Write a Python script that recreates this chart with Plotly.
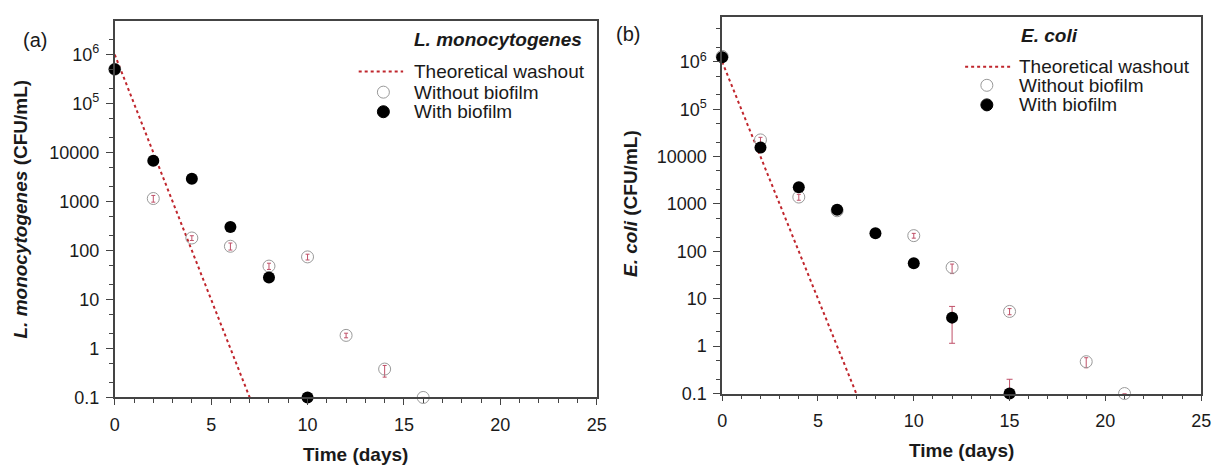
import plotly.graph_objects as go

# ---- data ----
days_wash = [0, 7]
wash = [1e6, 0.1]

# (a) L. monocytogenes
lm_days_wo = [0, 2, 4, 6, 8, 10, 12, 14, 16]
lm_wo = [5e5, 1150, 180, 122, 48, 74, 1.85, 0.38, 0.1]
lm_wo_err_up = [0, 180, 20, 20, 7, 10, 0.2, 0.07, 0]
lm_wo_err_dn = [0, 180, 20, 20, 7, 10, 0.2, 0.12, 0]
lm_days_w = [0, 2, 4, 6, 8, 10]
lm_w = [5e5, 6800, 2900, 300, 28, 0.1]

# (b) E. coli
ec_days_wo = [0, 2, 4, 6, 10, 12, 15, 19, 21]
ec_wo = [1.3e6, 22500, 1400, 720, 215, 46, 5.4, 0.47, 0.1]
ec_wo_err_up = [0, 3000, 200, 80, 25, 8, 0.8, 0.1, 0]
ec_wo_err_dn = [0, 3000, 200, 80, 25, 12, 0.8, 0.12, 0]
ec_days_w = [0, 2, 4, 6, 8, 10, 12, 15]
ec_w = [1.25e6, 15500, 2250, 760, 240, 56, 4.0, 0.1]
ec_w_err_up = [0, 0, 0, 0, 0, 0, 2.9, 0.1]
ec_w_err_dn = [0, 0, 0, 0, 0, 0, 2.85, 0]

ytick_vals = [0.1, 1, 10, 100, 1000, 10000, 1e5, 1e6]
ytick_text = ["0.1", "1", "10", "100", "1000", "10000", "10<sup>5</sup>", "10<sup>6</sup>"]
xtick_vals = [0, 5, 10, 15, 20, 25]

legend_names = ["Theoretical washout", "Without biofilm", "With biofilm"]

FONT = "Arial, Liberation Sans, sans-serif"
WASH_COL = "#c0262d"
ERR_COL = "#c05068"
OPEN_COL = "#999999"
AX_COL = "#444444"
TXT_COL = "#1a1a1a"

# the figure appears shifted right by the page margin; compensate horizontally
OFF_X, OFF_Y = 8, 0
W, H = 1226 - OFF_X, 466 - OFF_Y


def px(X):
    return (X - OFF_X) / W


def py(Y):
    return 1 - (Y - OFF_Y) / H


fig = go.Figure()


def add_panel(xa, ya, d_wo, v_wo, eu_wo, ed_wo, d_w, v_w, eu_w=None, ed_w=None):
    fig.add_trace(go.Scatter(
        x=days_wash, y=wash, mode="lines", name=legend_names[0],
        line=dict(color=WASH_COL, width=2, dash="dot"),
        xaxis=xa, yaxis=ya, showlegend=False))
    fig.add_trace(go.Scatter(
        x=d_wo, y=v_wo, mode="markers", name=legend_names[1],
        marker=dict(symbol="circle-open", size=12, color=OPEN_COL, line=dict(width=1)),
        error_y=dict(type="data", symmetric=False, array=eu_wo, arrayminus=ed_wo,
                     color=ERR_COL, thickness=1, width=2),
        xaxis=xa, yaxis=ya, showlegend=False, cliponaxis=False))
    ey = None
    if eu_w is not None:
        ey = dict(type="data", symmetric=False, array=eu_w, arrayminus=ed_w,
                  color=ERR_COL, thickness=1, width=3)
    fig.add_trace(go.Scatter(
        x=d_w, y=v_w, mode="markers", name=legend_names[2],
        marker=dict(symbol="circle", size=12, color="black"),
        error_y=ey, cliponaxis=False,
        xaxis=xa, yaxis=ya, showlegend=False))


add_panel("x", "y", lm_days_wo, lm_wo, lm_wo_err_up, lm_wo_err_dn, lm_days_w, lm_w)
add_panel("x2", "y2", ec_days_wo, ec_wo, ec_wo_err_up, ec_wo_err_dn,
          ec_days_w, ec_w, ec_w_err_up, ec_w_err_dn)


def xaxis_cfg(x0, x1, anchor):
    return dict(
        domain=[px(x0), px(x1)], anchor=anchor, range=[0, 25],
        tickvals=xtick_vals, ticks="outside", ticklen=6, tickwidth=1.2,
        tickcolor=AX_COL, showline=True, linecolor=AX_COL, linewidth=1.5, mirror=True,
        showgrid=False, zeroline=False, ticklabelstandoff=4,
        minor=dict(dtick=1, ticks="outside", ticklen=4, tickcolor=AX_COL, tickwidth=1),
        tickfont=dict(size=18, color=TXT_COL, family=FONT),
        title=dict(text="<b>Time (days)</b>", font=dict(size=19, color=TXT_COL, family=FONT),
                   standoff=14),
    )


def yaxis_cfg(y_top, y_bot, anchor, top):
    return dict(
        domain=[py(y_bot), py(y_top)], anchor=anchor, type="log", range=[-1, top],
        tickvals=ytick_vals, ticktext=ytick_text, ticks="outside", ticklen=7, tickwidth=1.2,
        tickcolor=AX_COL, showline=True, linecolor=AX_COL, linewidth=1.5, mirror=True,
        showgrid=False, zeroline=False, ticklabelstandoff=3,
        minor=dict(ticks="outside", ticklen=4, tickcolor=AX_COL, tickwidth=1),
        tickfont=dict(size=18, color=TXT_COL, family=FONT),
    )


fig.update_layout(
    width=W, height=H,
    margin=dict(l=0, r=0, t=0, b=0),
    paper_bgcolor="white", plot_bgcolor="white",
    font=dict(family=FONT, color=TXT_COL),
    xaxis=xaxis_cfg(111, 599, "y"),
    yaxis=yaxis_cfg(13, 398, "x", 6.69),
    xaxis2=xaxis_cfg(726, 1211, "y2"),
    yaxis2=yaxis_cfg(9, 394, "x2", 6.95),
    showlegend=False,
)

annos = [
    dict(text="(a)", x=px(30), y=py(33), size=20),
    dict(text="(b)", x=px(631), y=py(27), size=20),
    dict(text="<b><i>L. monocytogenes</i></b>", x=px(412), y=py(32), xanchor="left"),
    dict(text="<b><i>E. coli</i></b>", x=px(1027), y=py(28), xanchor="left"),
    dict(text="<b><i>L. monocytogenes</i> (CFU/mL)</b>", x=px(16), y=py(205), textangle=-90),
    dict(text="<b><i>E. coli</i> (CFU/mL)</b>", x=px(633), y=py(200), textangle=-90),
]

# manual legends (line sample / open circle / filled circle + labels)
legends = [
    dict(line=(358, 403), cx=383, tx=412, rows=(65, 86, 106)),
    dict(line=(972, 1018), cx=994, tx=1025, rows=(60, 79, 99)),
]
for lg in legends:
    r0, r1, r2 = lg["rows"]
    fig.add_shape(type="line", xref="paper", yref="paper",
                  x0=px(lg["line"][0]), x1=px(lg["line"][1]), y0=py(r0), y1=py(r0),
                  line=dict(color=WASH_COL, width=2, dash="dot"))
    for r, fill, lc in ((r1, "rgba(0,0,0,0)", OPEN_COL), (r2, "black", "black")):
        fig.add_shape(type="circle", xref="paper", yref="paper",
                      xsizemode="pixel", ysizemode="pixel",
                      xanchor=px(lg["cx"]), yanchor=py(r), x0=-6, x1=6, y0=-6, y1=6,
                      fillcolor=fill, line=dict(color=lc, width=1))
    for name, r in zip(legend_names, lg["rows"]):
        annos.append(dict(text=name, x=px(lg["tx"]), y=py(r), xanchor="left"))

for a in annos:
    a.setdefault("xanchor", "center")
    size = a.pop("size", 19)
    fig.add_annotation(xref="paper", yref="paper", yanchor="middle", showarrow=False,
                       font=dict(size=size, color=TXT_COL, family=FONT), **a)

fig.write_html("out.html")
